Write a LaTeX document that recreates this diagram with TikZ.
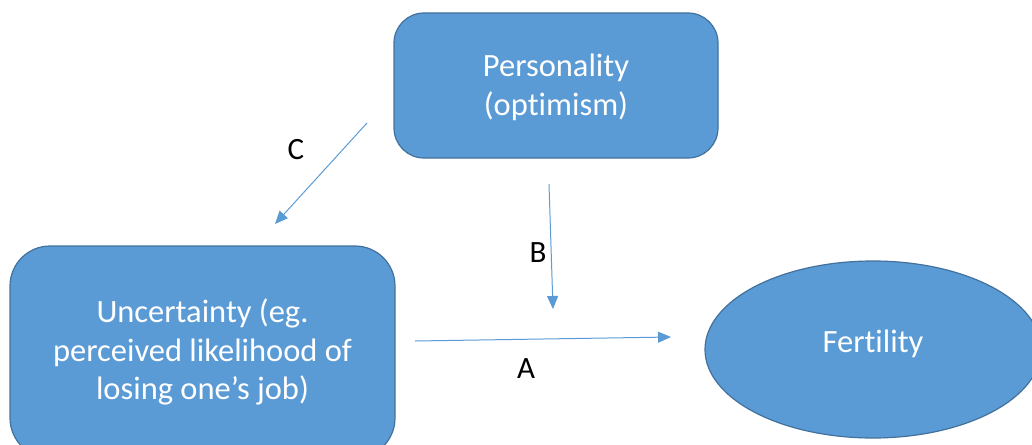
\documentclass[tikz,border=0pt]{standalone}
\usepackage{fontspec}
\setmainfont{Carlito}[Ligatures={NoCommon}]
\usetikzlibrary{arrows.meta,shapes.geometric}
\definecolor{fillblue}{HTML}{5B9BD5}
\definecolor{edgeblue}{HTML}{41719C}
\newcommand{\shiftedtext}[2]{\raisebox{#1}[\height][\depth]{\begin{tabular}{@{}c@{}}#2\end{tabular}}}
\tikzset{
  box/.style={draw=edgeblue, line width=1.2pt, fill=fillblue, text=white, align=center,
    font=\fontsize{32.5}{38.5}\selectfont, inner sep=0pt},
  conn/.style={draw=fillblue, line width=1pt, -{Triangle[length=13pt,width=11pt]}},
  lab/.style={font=\fontsize{31}{36}\selectfont, text=black, inner sep=0pt}
}
\begin{document}
\begin{tikzpicture}[x=1pt,y=1pt]
\useasboundingbox (0,0) rectangle (1032,-444);
\clip (0,0) rectangle (1032,-444);
\node[box, rounded corners=30pt, minimum width=324pt, minimum height=145pt] (pers) at (556,-85.5) {\shiftedtext{-3pt}{Personality\\(optimism)}};
\node[box, rounded corners=40pt, minimum width=385pt, minimum height=212pt] (unc) at (202.5,-352) {Uncertainty (eg.\\perceived likelihood of\\losing one’s job)};
\node[box, ellipse, minimum width=336pt, minimum height=177pt] (fert) at (873,-349.5) {\shiftedtext{5pt}{Fertility}};
\coordinate (cS) at (367,-123);
\coordinate (cE) at (275,-224);
\coordinate (bS) at (549,-184);
\coordinate (bE) at (553,-309);
\coordinate (aS) at (415,-341);
\coordinate (aE) at (671,-337);
\draw[conn] (cS) -- (cE);
\draw[conn] (bS) -- (bE);
\draw[conn] (aS) -- (aE);
\node[lab] (lc) at (296,-150) {C};
\node[lab] (lb) at (538,-253) {B};
\node[lab] (la) at (526,-369) {A};
\end{tikzpicture}
\end{document}
